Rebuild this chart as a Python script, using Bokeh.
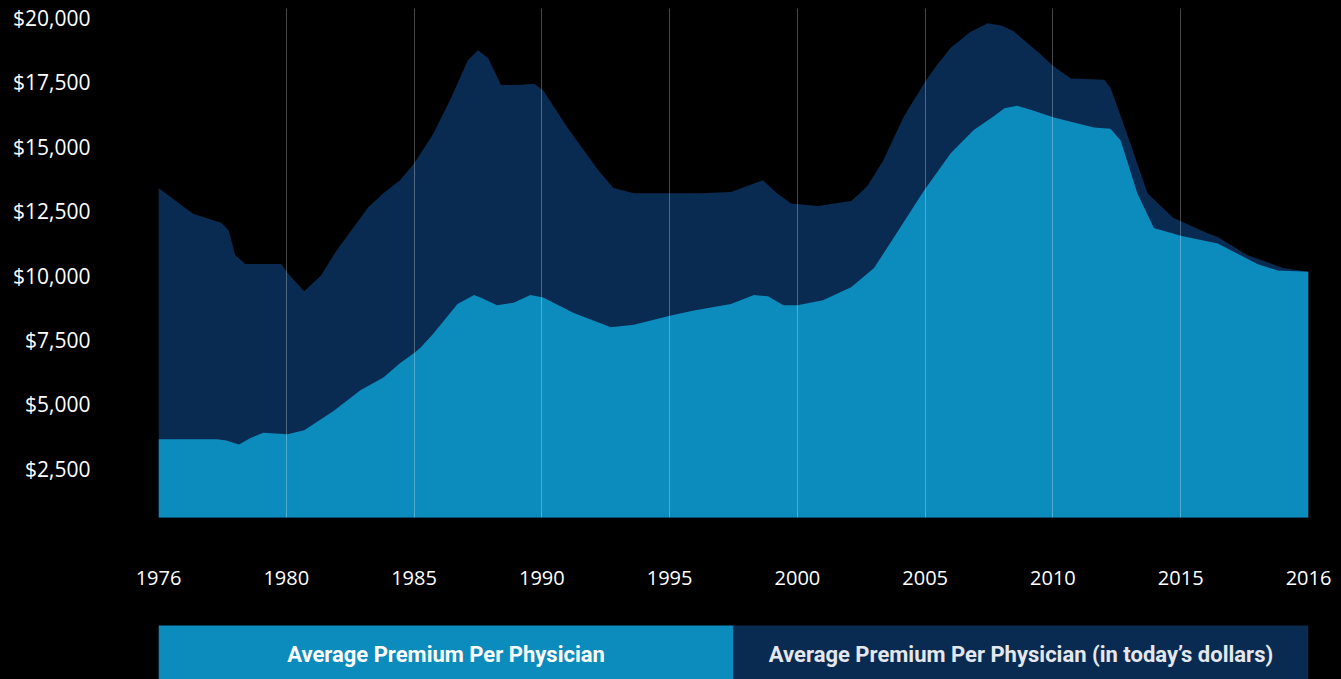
from bokeh.plotting import figure
from bokeh.layouts import column
from bokeh.models import Range1d, FixedTicker, NumeralTickFormatter, ColumnDataSource
from bokeh.core.properties import value
from bokeh.embed import file_html
from bokeh.resources import INLINE

# ---- data ----
tick_labels = ["1976", "1980", "1985", "1990", "1995", "2000", "2005", "2010", "2015", "2016"]

# x in axis-position units (0 = 1976 label ... 9 = 2016 label)
x_today = [0.00, 0.27, 0.49, 0.55, 0.60, 0.68, 0.96, 1.01, 1.14, 1.27, 1.39, 1.64, 1.76, 1.89,
           2.00, 2.15, 2.29, 2.42, 2.50, 2.58, 2.68, 2.81, 2.94, 3.01, 3.20, 3.44, 3.56, 3.72,
           3.98, 4.24, 4.48, 4.73, 4.84, 4.95, 5.16, 5.42, 5.49, 5.55, 5.67, 5.83, 5.99, 6.08,
           6.20, 6.35, 6.49, 6.60, 6.69, 6.90, 7.00, 7.14, 7.40, 7.45, 7.58, 7.74, 7.94, 8.21,
           8.29, 8.52, 8.80, 9.00]
premium_today = [13400, 12400, 12050, 11750, 10800, 10450, 10450, 10100, 9400, 10000, 10950,
                 12650, 13200, 13700, 14350, 15500, 16900, 18350, 18750, 18450, 17400, 17400,
                 17450, 17200, 15750, 14100, 13400, 13200, 13200, 13200, 13250, 13700, 13200,
                 12800, 12700, 12900, 13200, 13500, 14450, 16150, 17450, 18100, 18850, 19450,
                 19800, 19700, 19500, 18600, 18150, 17650, 17600, 17300, 15500, 13200, 12250,
                 11650, 11500, 10800, 10300, 10150]

x_nominal = [0.00, 0.46, 0.53, 0.63, 0.72, 0.82, 1.01, 1.14, 1.37, 1.58, 1.76, 1.89, 2.00, 2.05,
             2.15, 2.34, 2.47, 2.52, 2.65, 2.78, 2.91, 3.01, 3.25, 3.54, 3.72, 4.01, 4.19, 4.48,
             4.66, 4.77, 4.89, 5.00, 5.20, 5.42, 5.60, 5.79, 5.99, 6.20, 6.38, 6.54, 6.62, 6.72,
             6.85, 7.00, 7.32, 7.45, 7.53, 7.66, 7.79, 8.00, 8.29, 8.60, 8.76, 9.00]
premium_nominal = [3650, 3650, 3600, 3450, 3700, 3900, 3850, 4000, 4750, 5550, 6050, 6600, 7000,
                   7200, 7750, 8900, 9250, 9150, 8850, 8950, 9250, 9150, 8550, 8000, 8100, 8450,
                   8650, 8900, 9250, 9200, 8850, 8850, 9050, 9550, 10300, 11750, 13300, 14750,
                   15650, 16200, 16500, 16600, 16400, 16150, 15750, 15700, 15250, 13200, 11850,
                   11550, 11250, 10450, 10200, 10150]

y_ticks = [2500, 5000, 7500, 10000, 12500, 15000, 17500, 20000]
legend_labels = ["Average Premium Per Physician", "Average Premium Per Physician (in today\u2019s dollars)"]

LIGHT = "#0c8bbd"
DARK = "#0a2b51"
BG = "#000000"

# ---- main chart ----
p = figure(frame_width=1150, frame_height=509, output_backend="svg", toolbar_location=None,
           title=None, x_range=Range1d(0, 9), y_range=Range1d(614, 20370),
           min_border_left=158, min_border_right=33, min_border_top=8, min_border_bottom=100,
           background_fill_color=BG, border_fill_color=BG, outline_line_color=None)

p.varea(x=x_today, y1=[0] * len(x_today), y2=premium_today, fill_color=DARK)
p.varea(x=x_nominal, y1=[0] * len(x_nominal), y2=premium_nominal, fill_color=LIGHT)

p.xaxis.ticker = FixedTicker(ticks=list(range(len(tick_labels))))
p.xaxis.major_label_overrides = {i: t for i, t in enumerate(tick_labels)}
p.yaxis.ticker = FixedTicker(ticks=y_ticks)
p.yaxis.formatter = NumeralTickFormatter(format="$0,0")

for ax in (p.xaxis, p.yaxis):
    ax.axis_line_color = None
    ax.major_tick_line_color = None
    ax.minor_tick_line_color = None
    ax.major_label_text_color = "#ffffff"
    ax.major_label_text_font = "Open Sans"
p.xaxis.major_label_text_font_size = "20px"
p.yaxis.major_label_text_font_size = "21px"
p.xaxis.major_label_standoff = 47
p.yaxis.major_label_standoff = 62

p.ygrid.grid_line_color = None
p.xgrid.ticker = FixedTicker(ticks=list(range(len(tick_labels))))
p.xgrid.grid_line_color = "#ffffff"
p.xgrid.grid_line_alpha = 0.28
p.xgrid.grid_line_width = 1
p.xgrid.level = "overlay"

# ---- legend strip ----
leg = figure(frame_width=1150, frame_height=54, output_backend="svg", toolbar_location=None,
             title=None, x_range=Range1d(0, 2), y_range=Range1d(0, 1),
             x_axis_location=None, y_axis_location=None,
             min_border_left=158, min_border_right=33, min_border_top=8, min_border_bottom=0,
             background_fill_color=BG, border_fill_color=BG, outline_line_color=None)
leg.grid.visible = False
src = ColumnDataSource(dict(left=[0, 1], right=[1, 2], color=[LIGHT, DARK],
                            tx=[0.5, 1.5], label=legend_labels, tcol=["#ffffff", "#e4e8ee"]))
leg.quad(left="left", right="right", bottom=-0.2, top=1.2, fill_color="color", line_color=None, source=src)
leg.text(x="tx", y=0.47, text="label", source=src, text_color="tcol",
         text_font=value("Roboto"), text_font_style="bold", text_font_size="22px",
         text_align="center", text_baseline="middle")

layout = column(p, leg, spacing=0)

html = file_html(layout, INLINE)
html = html.replace("</head>", "<style>html,body{background:#000000;}</style></head>", 1)
open("out.html", "w").write(html)
